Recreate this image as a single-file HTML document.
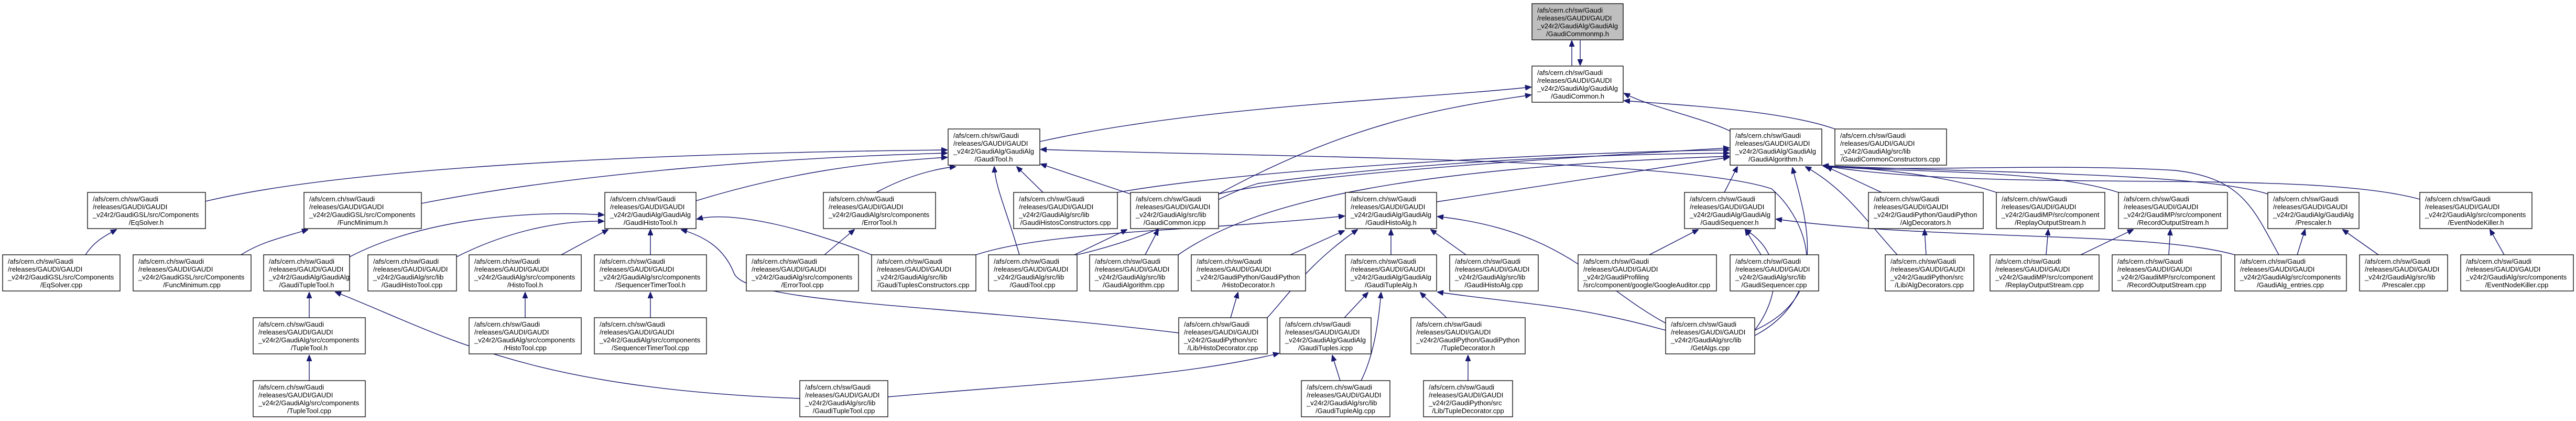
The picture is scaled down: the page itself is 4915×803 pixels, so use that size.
<!DOCTYPE html>
<html><head><meta charset="utf-8"><style>
html,body{margin:0;padding:0;background:#fff}
svg{display:block}
text{font-family:"Liberation Sans",Arial,sans-serif;font-size:13px;fill:#000}
rect{fill:#fff;stroke:#000;stroke-width:1.3}
path{fill:none;stroke:#191970;stroke-width:1.4}
</style></head><body>
<svg width="4915" height="803" viewBox="0 0 4915 803" xmlns="http://www.w3.org/2000/svg">
<defs><marker id="a" markerUnits="userSpaceOnUse" markerWidth="12" markerHeight="10" refX="11" refY="5" orient="auto"><path d="M0,0 L12,5 L0,10 z" style="fill:#191970;stroke:#191970;stroke-width:1"/></marker></defs>
<g marker-end="url(#a)">
<path d="M2999,126 L2999,78"/><path d="M3015,77 L3015,124"/>
<path d="M1984,270 C2300,200 2700,190 2921,166"/>
<path d="M2325,370 C2600,220 2800,200 2921,181"/>
<path d="M3301,250 C3250,225 3150,205 3099,178"/>
<path d="M3501,246 C3400,210 3200,200 3099,192"/>
<path d="M392,384 C700,310 1400,290 1807,286"/>
<path d="M804,388 C1100,330 1500,300 1807,292"/>
<path d="M1328,383 C1500,330 1650,310 1807,300"/>
<path d="M1672,367 C1740,330 1800,320 1823,318"/>
<path d="M1990,367 L1940,318"/>
<path d="M2157,370 L1986,313"/>
<path d="M1945,486 C1920,400 1900,360 1897,318"/>
<path d="M3348,630 C3500,560 3450,420 3380,360 C3200,300 2400,300 1986,285"/>
<path d="M667,490 C800,420 1000,400 1152,410"/>
<path d="M871,490 C950,450 1050,420 1152,422"/>
<path d="M1071,486 L1160,438"/>
<path d="M1241,486 L1241,438"/>
<path d="M1663,486 C1550,440 1400,400 1330,418"/>
<path d="M2249,635 C1800,580 1420,580 1400,520 C1380,470 1340,450 1300,438"/>
<path d="M1573,486 L1630,438"/>
<path d="M1526,760 C1000,740 850,640 640,557"/>
<path d="M1694,757 C2000,730 2250,720 2440,674"/>
<path d="M590,606 L590,558"/><path d="M590,726 L590,678"/>
<path d="M1002,606 L1002,558"/><path d="M1241,606 L1241,558"/>
<path d="M163,486 C180,460 200,450 222,438"/>
<path d="M460,486 C500,460 550,450 587,438"/>
<path d="M2050,486 L2150,438"/><path d="M2185,486 L2210,438"/>
<path d="M1862,486 C2000,440 2300,440 2565,412"/>
<path d="M2462,486 L2565,440"/>
<path d="M2418,606 C2460,560 2500,500 2590,438"/>
<path d="M2654,486 L2654,438"/>
<path d="M2797,486 L2730,438"/>
<path d="M3185,620 C3050,550 2990,440 2743,413"/>
<path d="M2565,606 L2610,558"/>
<path d="M2597,726 C2620,680 2630,620 2635,558"/>
<path d="M2760,606 L2710,558"/>
<path d="M3178,630 C3000,580 2900,580 2743,557"/>
<path d="M2348,606 L2362,558"/><path d="M2557,726 L2542,678"/><path d="M2801,726 L2801,678"/>
<path d="M2325,370 C2500,330 3000,300 3299,282"/>
<path d="M2132,367 C2400,320 3000,290 3299,286"/>
<path d="M2055,486 C2250,440 2300,380 2400,350 C2700,310 3000,295 3299,292"/>
<path d="M2248,486 C2400,380 2700,320 3299,298"/>
<path d="M2741,385 L3299,300"/>
<path d="M3290,367 L3315,318"/>
<path d="M3348,640 C3500,560 3440,400 3420,320"/>
<path d="M3620,486 C3560,420 3520,360 3445,318"/>
<path d="M3590,367 L3485,318"/>
<path d="M3809,367 C3700,330 3550,320 3478,316"/>
<path d="M4042,367 C3900,320 3600,330 3478,316"/>
<path d="M4327,370 C4200,330 3800,330 3478,316"/>
<path d="M4617,380 C4400,320 3800,370 3478,316"/>
<path d="M4348,486 C4300,400 4280,340 4150,325 C3900,310 3600,330 3478,316"/>
<path d="M3360,486 L3330,438"/>
<path d="M3348,630 C3400,560 3400,480 3330,438"/>
<path d="M4264,486 C4100,440 3700,460 3389,418"/>
<path d="M3147,486 L3240,438"/>
<path d="M3675,486 L3672,438"/><path d="M3904,486 L3908,438"/>
<path d="M3970,486 L4070,438"/><path d="M4138,486 L4141,438"/>
<path d="M4383,486 L4398,438"/><path d="M4538,486 L4470,438"/>
<path d="M4778,486 L4751,438"/>
</g>

<!-- nodes -->
<g>
<rect x="2923" y="7" width="174" height="69" style="fill:#bfbfbf"/><text x="2933" y="24">/afs/cern.ch/sw/Gaudi</text><text x="2933" y="39">/releases/GAUDI/GAUDI</text><text x="2933" y="54">_v24r2/GaudiAlg/GaudiAlg</text><text x="3010" y="69" text-anchor="middle">/GaudiCommonmp.h</text>
<rect x="2923" y="126" width="174" height="69"/><text x="2933" y="143">/afs/cern.ch/sw/Gaudi</text><text x="2933" y="158">/releases/GAUDI/GAUDI</text><text x="2933" y="173">_v24r2/GaudiAlg/GaudiAlg</text><text x="3010" y="188" text-anchor="middle">/GaudiCommon.h</text>

<rect x="1809" y="246" width="175" height="69"/><text x="1819" y="263">/afs/cern.ch/sw/Gaudi</text><text x="1819" y="278">/releases/GAUDI/GAUDI</text><text x="1819" y="293">_v24r2/GaudiAlg/GaudiAlg</text><text x="1896" y="308" text-anchor="middle">/GaudiTool.h</text>
<rect x="3301" y="246" width="175" height="69"/><text x="3311" y="263">/afs/cern.ch/sw/Gaudi</text><text x="3311" y="278">/releases/GAUDI/GAUDI</text><text x="3311" y="293">_v24r2/GaudiAlg/GaudiAlg</text><text x="3388" y="308" text-anchor="middle">/GaudiAlgorithm.h</text>
<rect x="3501" y="246" width="213" height="69"/><text x="3511" y="263">/afs/cern.ch/sw/Gaudi</text><text x="3511" y="278">/releases/GAUDI/GAUDI</text><text x="3511" y="293">_v24r2/GaudiAlg/src/lib</text><text x="3607" y="308" text-anchor="middle">/GaudiCommonConstructors.cpp</text>

<rect x="167" y="367" width="225" height="69"/><text x="177" y="384">/afs/cern.ch/sw/Gaudi</text><text x="177" y="399">/releases/GAUDI/GAUDI</text><text x="177" y="414">_v24r2/GaudiGSL/src/Components</text><text x="279" y="429" text-anchor="middle">/EqSolver.h</text>
<rect x="580" y="367" width="224" height="69"/><text x="590" y="384">/afs/cern.ch/sw/Gaudi</text><text x="590" y="399">/releases/GAUDI/GAUDI</text><text x="590" y="414">_v24r2/GaudiGSL/src/Components</text><text x="692" y="429" text-anchor="middle">/FuncMinimum.h</text>
<rect x="1154" y="367" width="174" height="69"/><text x="1164" y="384">/afs/cern.ch/sw/Gaudi</text><text x="1164" y="399">/releases/GAUDI/GAUDI</text><text x="1164" y="414">_v24r2/GaudiAlg/GaudiAlg</text><text x="1241" y="429" text-anchor="middle">/GaudiHistoTool.h</text>
<rect x="1571" y="367" width="214" height="69"/><text x="1581" y="384">/afs/cern.ch/sw/Gaudi</text><text x="1581" y="399">/releases/GAUDI/GAUDI</text><text x="1581" y="414">_v24r2/GaudiAlg/src/components</text><text x="1678" y="429" text-anchor="middle">/ErrorTool.h</text>
<rect x="1934" y="367" width="198" height="69"/><text x="1944" y="384">/afs/cern.ch/sw/Gaudi</text><text x="1944" y="399">/releases/GAUDI/GAUDI</text><text x="1944" y="414">_v24r2/GaudiAlg/src/lib</text><text x="2033" y="429" text-anchor="middle">/GaudiHistosConstructors.cpp</text>
<rect x="2157" y="367" width="168" height="69"/><text x="2167" y="384">/afs/cern.ch/sw/Gaudi</text><text x="2167" y="399">/releases/GAUDI/GAUDI</text><text x="2167" y="414">_v24r2/GaudiAlg/src/lib</text><text x="2241" y="429" text-anchor="middle">/GaudiCommon.icpp</text>
<rect x="2567" y="367" width="174" height="69"/><text x="2577" y="384">/afs/cern.ch/sw/Gaudi</text><text x="2577" y="399">/releases/GAUDI/GAUDI</text><text x="2577" y="414">_v24r2/GaudiAlg/GaudiAlg</text><text x="2654" y="429" text-anchor="middle">/GaudiHistoAlg.h</text>
<rect x="3214" y="367" width="173" height="69"/><text x="3224" y="384">/afs/cern.ch/sw/Gaudi</text><text x="3224" y="399">/releases/GAUDI/GAUDI</text><text x="3224" y="414">_v24r2/GaudiAlg/GaudiAlg</text><text x="3300" y="429" text-anchor="middle">/GaudiSequencer.h</text>
<rect x="3565" y="367" width="219" height="69"/><text x="3575" y="384">/afs/cern.ch/sw/Gaudi</text><text x="3575" y="399">/releases/GAUDI/GAUDI</text><text x="3575" y="414">_v24r2/GaudiPython/GaudiPython</text><text x="3674" y="429" text-anchor="middle">/AlgDecorators.h</text>
<rect x="3809" y="367" width="207" height="69"/><text x="3819" y="384">/afs/cern.ch/sw/Gaudi</text><text x="3819" y="399">/releases/GAUDI/GAUDI</text><text x="3819" y="414">_v24r2/GaudiMP/src/component</text><text x="3912" y="429" text-anchor="middle">/ReplayOutputStream.h</text>
<rect x="4042" y="367" width="208" height="69"/><text x="4052" y="384">/afs/cern.ch/sw/Gaudi</text><text x="4052" y="399">/releases/GAUDI/GAUDI</text><text x="4052" y="414">_v24r2/GaudiMP/src/component</text><text x="4146" y="429" text-anchor="middle">/RecordOutputStream.h</text>
<rect x="4327" y="367" width="174" height="69"/><text x="4337" y="384">/afs/cern.ch/sw/Gaudi</text><text x="4337" y="399">/releases/GAUDI/GAUDI</text><text x="4337" y="414">_v24r2/GaudiAlg/GaudiAlg</text><text x="4414" y="429" text-anchor="middle">/Prescaler.h</text>
<rect x="4617" y="367" width="214" height="69"/><text x="4627" y="384">/afs/cern.ch/sw/Gaudi</text><text x="4627" y="399">/releases/GAUDI/GAUDI</text><text x="4627" y="414">_v24r2/GaudiAlg/src/components</text><text x="4724" y="429" text-anchor="middle">/EventNodeKiller.h</text>

<rect x="5" y="486" width="224" height="69"/><text x="15" y="503">/afs/cern.ch/sw/Gaudi</text><text x="15" y="518">/releases/GAUDI/GAUDI</text><text x="15" y="533">_v24r2/GaudiGSL/src/Components</text><text x="117" y="548" text-anchor="middle">/EqSolver.cpp</text>
<rect x="254" y="486" width="225" height="69"/><text x="264" y="503">/afs/cern.ch/sw/Gaudi</text><text x="264" y="518">/releases/GAUDI/GAUDI</text><text x="264" y="533">_v24r2/GaudiGSL/src/Components</text><text x="366" y="548" text-anchor="middle">/FuncMinimum.cpp</text>
<rect x="503" y="486" width="164" height="69"/><text x="513" y="503">/afs/cern.ch/sw/Gaudi</text><text x="513" y="518">/releases/GAUDI/GAUDI</text><text x="513" y="533">_v24r2/GaudiAlg/GaudiAlg</text><text x="585" y="548" text-anchor="middle">/GaudiTupleTool.h</text>
<rect x="702" y="486" width="169" height="69"/><text x="712" y="503">/afs/cern.ch/sw/Gaudi</text><text x="712" y="518">/releases/GAUDI/GAUDI</text><text x="712" y="533">_v24r2/GaudiAlg/src/lib</text><text x="786" y="548" text-anchor="middle">/GaudiHistoTool.cpp</text>
<rect x="895" y="486" width="214" height="69"/><text x="905" y="503">/afs/cern.ch/sw/Gaudi</text><text x="905" y="518">/releases/GAUDI/GAUDI</text><text x="905" y="533">_v24r2/GaudiAlg/src/components</text><text x="1002" y="548" text-anchor="middle">/HistoTool.h</text>
<rect x="1134" y="486" width="214" height="69"/><text x="1144" y="503">/afs/cern.ch/sw/Gaudi</text><text x="1144" y="518">/releases/GAUDI/GAUDI</text><text x="1144" y="533">_v24r2/GaudiAlg/src/components</text><text x="1241" y="548" text-anchor="middle">/SequencerTimerTool.h</text>
<rect x="1424" y="486" width="214" height="69"/><text x="1434" y="503">/afs/cern.ch/sw/Gaudi</text><text x="1434" y="518">/releases/GAUDI/GAUDI</text><text x="1434" y="533">_v24r2/GaudiAlg/src/components</text><text x="1531" y="548" text-anchor="middle">/ErrorTool.cpp</text>
<rect x="1663" y="486" width="199" height="69"/><text x="1673" y="503">/afs/cern.ch/sw/Gaudi</text><text x="1673" y="518">/releases/GAUDI/GAUDI</text><text x="1673" y="533">_v24r2/GaudiAlg/src/lib</text><text x="1762" y="548" text-anchor="middle">/GaudiTuplesConstructors.cpp</text>
<rect x="1886" y="486" width="169" height="69"/><text x="1896" y="503">/afs/cern.ch/sw/Gaudi</text><text x="1896" y="518">/releases/GAUDI/GAUDI</text><text x="1896" y="533">_v24r2/GaudiAlg/src/lib</text><text x="1970" y="548" text-anchor="middle">/GaudiTool.cpp</text>
<rect x="2079" y="486" width="169" height="69"/><text x="2089" y="503">/afs/cern.ch/sw/Gaudi</text><text x="2089" y="518">/releases/GAUDI/GAUDI</text><text x="2089" y="533">_v24r2/GaudiAlg/src/lib</text><text x="2163" y="548" text-anchor="middle">/GaudiAlgorithm.cpp</text>
<rect x="2273" y="486" width="218" height="69"/><text x="2283" y="503">/afs/cern.ch/sw/Gaudi</text><text x="2283" y="518">/releases/GAUDI/GAUDI</text><text x="2283" y="533">_v24r2/GaudiPython/GaudiPython</text><text x="2382" y="548" text-anchor="middle">/HistoDecorator.h</text>
<rect x="2567" y="486" width="174" height="69"/><text x="2577" y="503">/afs/cern.ch/sw/Gaudi</text><text x="2577" y="518">/releases/GAUDI/GAUDI</text><text x="2577" y="533">_v24r2/GaudiAlg/GaudiAlg</text><text x="2654" y="548" text-anchor="middle">/GaudiTupleAlg.h</text>
<rect x="2766" y="486" width="169" height="69"/><text x="2776" y="503">/afs/cern.ch/sw/Gaudi</text><text x="2776" y="518">/releases/GAUDI/GAUDI</text><text x="2776" y="533">_v24r2/GaudiAlg/src/lib</text><text x="2850" y="548" text-anchor="middle">/GaudiHistoAlg.cpp</text>
<rect x="3011" y="486" width="264" height="69"/><text x="3021" y="503">/afs/cern.ch/sw/Gaudi</text><text x="3021" y="518">/releases/GAUDI/GAUDI</text><text x="3021" y="533">_v24r2/GaudiProfiling</text><text x="3021" y="548">/src/component/google/GoogleAuditor.cpp</text>
<rect x="3301" y="486" width="169" height="69"/><text x="3311" y="503">/afs/cern.ch/sw/Gaudi</text><text x="3311" y="518">/releases/GAUDI/GAUDI</text><text x="3311" y="533">_v24r2/GaudiAlg/src/lib</text><text x="3385" y="548" text-anchor="middle">/GaudiSequencer.cpp</text>
<rect x="3597" y="486" width="169" height="69"/><text x="3607" y="503">/afs/cern.ch/sw/Gaudi</text><text x="3607" y="518">/releases/GAUDI/GAUDI</text><text x="3607" y="533">_v24r2/GaudiPython/src</text><text x="3681" y="548" text-anchor="middle">/Lib/AlgDecorators.cpp</text>
<rect x="3797" y="486" width="208" height="69"/><text x="3807" y="503">/afs/cern.ch/sw/Gaudi</text><text x="3807" y="518">/releases/GAUDI/GAUDI</text><text x="3807" y="533">_v24r2/GaudiMP/src/component</text><text x="3901" y="548" text-anchor="middle">/ReplayOutputStream.cpp</text>
<rect x="4030" y="486" width="208" height="69"/><text x="4040" y="503">/afs/cern.ch/sw/Gaudi</text><text x="4040" y="518">/releases/GAUDI/GAUDI</text><text x="4040" y="533">_v24r2/GaudiMP/src/component</text><text x="4134" y="548" text-anchor="middle">/RecordOutputStream.cpp</text>
<rect x="4264" y="486" width="213" height="69"/><text x="4274" y="503">/afs/cern.ch/sw/Gaudi</text><text x="4274" y="518">/releases/GAUDI/GAUDI</text><text x="4274" y="533">_v24r2/GaudiAlg/src/components</text><text x="4370" y="548" text-anchor="middle">/GaudiAlg_entries.cpp</text>
<rect x="4502" y="486" width="168" height="69"/><text x="4512" y="503">/afs/cern.ch/sw/Gaudi</text><text x="4512" y="518">/releases/GAUDI/GAUDI</text><text x="4512" y="533">_v24r2/GaudiAlg/src/lib</text><text x="4586" y="548" text-anchor="middle">/Prescaler.cpp</text>
<rect x="4695" y="486" width="215" height="69"/><text x="4705" y="503">/afs/cern.ch/sw/Gaudi</text><text x="4705" y="518">/releases/GAUDI/GAUDI</text><text x="4705" y="533">_v24r2/GaudiAlg/src/components</text><text x="4802" y="548" text-anchor="middle">/EventNodeKiller.cpp</text>

<rect x="483" y="606" width="214" height="69"/><text x="493" y="623">/afs/cern.ch/sw/Gaudi</text><text x="493" y="638">/releases/GAUDI/GAUDI</text><text x="493" y="653">_v24r2/GaudiAlg/src/components</text><text x="590" y="668" text-anchor="middle">/TupleTool.h</text>
<rect x="895" y="606" width="214" height="69"/><text x="905" y="623">/afs/cern.ch/sw/Gaudi</text><text x="905" y="638">/releases/GAUDI/GAUDI</text><text x="905" y="653">_v24r2/GaudiAlg/src/components</text><text x="1002" y="668" text-anchor="middle">/HistoTool.cpp</text>
<rect x="1134" y="606" width="214" height="69"/><text x="1144" y="623">/afs/cern.ch/sw/Gaudi</text><text x="1144" y="638">/releases/GAUDI/GAUDI</text><text x="1144" y="653">_v24r2/GaudiAlg/src/components</text><text x="1241" y="668" text-anchor="middle">/SequencerTimerTool.cpp</text>
<rect x="2249" y="606" width="169" height="69"/><text x="2259" y="623">/afs/cern.ch/sw/Gaudi</text><text x="2259" y="638">/releases/GAUDI/GAUDI</text><text x="2259" y="653">_v24r2/GaudiPython/src</text><text x="2333" y="668" text-anchor="middle">/Lib/HistoDecorator.cpp</text>
<rect x="2442" y="606" width="174" height="69"/><text x="2452" y="623">/afs/cern.ch/sw/Gaudi</text><text x="2452" y="638">/releases/GAUDI/GAUDI</text><text x="2452" y="653">_v24r2/GaudiAlg/GaudiAlg</text><text x="2529" y="668" text-anchor="middle">/GaudiTuples.icpp</text>
<rect x="2692" y="606" width="218" height="69"/><text x="2702" y="623">/afs/cern.ch/sw/Gaudi</text><text x="2702" y="638">/releases/GAUDI/GAUDI</text><text x="2702" y="653">_v24r2/GaudiPython/GaudiPython</text><text x="2801" y="668" text-anchor="middle">/TupleDecorator.h</text>
<rect x="3178" y="606" width="170" height="69"/><text x="3188" y="623">/afs/cern.ch/sw/Gaudi</text><text x="3188" y="638">/releases/GAUDI/GAUDI</text><text x="3188" y="653">_v24r2/GaudiAlg/src/lib</text><text x="3263" y="668" text-anchor="middle">/GetAlgs.cpp</text>

<rect x="483" y="726" width="214" height="69"/><text x="493" y="743">/afs/cern.ch/sw/Gaudi</text><text x="493" y="758">/releases/GAUDI/GAUDI</text><text x="493" y="773">_v24r2/GaudiAlg/src/components</text><text x="590" y="788" text-anchor="middle">/TupleTool.cpp</text>
<rect x="1526" y="726" width="168" height="69"/><text x="1536" y="743">/afs/cern.ch/sw/Gaudi</text><text x="1536" y="758">/releases/GAUDI/GAUDI</text><text x="1536" y="773">_v24r2/GaudiAlg/src/lib</text><text x="1610" y="788" text-anchor="middle">/GaudiTupleTool.cpp</text>
<rect x="2483" y="726" width="169" height="69"/><text x="2493" y="743">/afs/cern.ch/sw/Gaudi</text><text x="2493" y="758">/releases/GAUDI/GAUDI</text><text x="2493" y="773">_v24r2/GaudiAlg/src/lib</text><text x="2567" y="788" text-anchor="middle">/GaudiTupleAlg.cpp</text>
<rect x="2716" y="726" width="170" height="69"/><text x="2726" y="743">/afs/cern.ch/sw/Gaudi</text><text x="2726" y="758">/releases/GAUDI/GAUDI</text><text x="2726" y="773">_v24r2/GaudiPython/src</text><text x="2801" y="788" text-anchor="middle">/Lib/TupleDecorator.cpp</text>
</g>
</svg>
</body></html>
